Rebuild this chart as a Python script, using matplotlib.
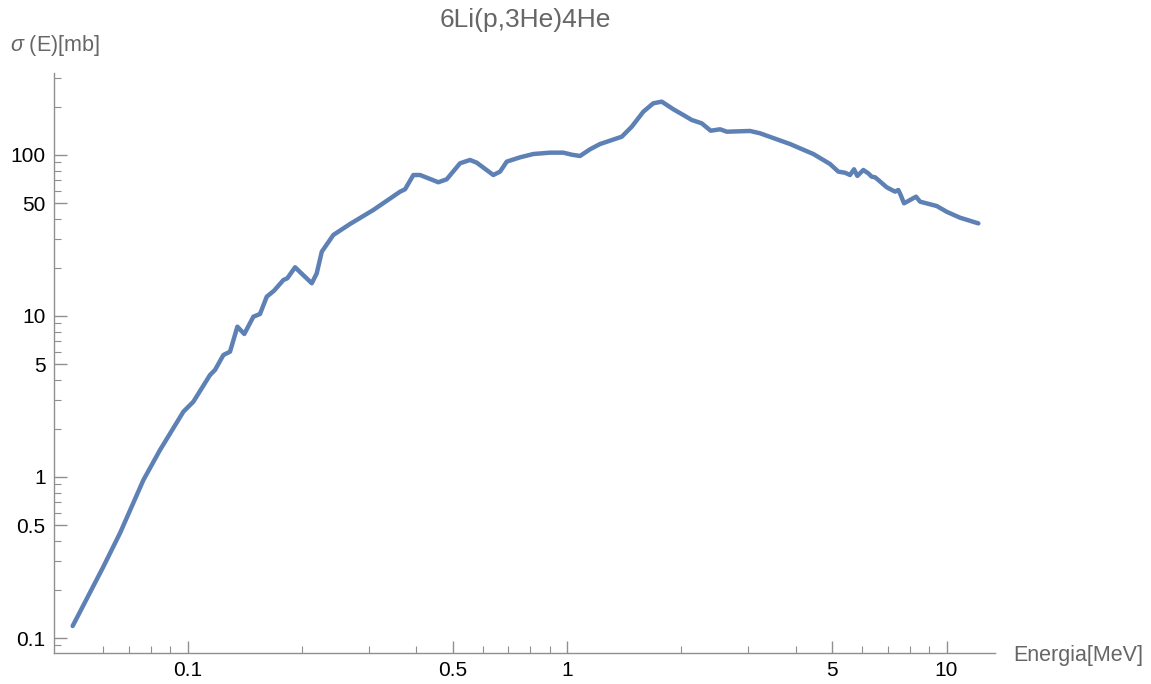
import matplotlib
matplotlib.use('Agg')
import matplotlib.pyplot as plt
from matplotlib.ticker import FixedLocator, LogLocator, NullFormatter, FixedFormatter

# Data (E in MeV, sigma in mb)
energy = [0.0498, 0.0600, 0.0664, 0.0765, 0.0846, 0.0975, 0.1036, 0.1146, 0.1181,
          0.1243, 0.1294, 0.1353, 0.1411, 0.1491, 0.1552, 0.1617, 0.1690, 0.1789,
          0.1832, 0.1920, 0.2125, 0.2190, 0.2258, 0.2422, 0.2680, 0.3087, 0.3631,
          0.3742, 0.3936, 0.4100, 0.4579, 0.4819, 0.5224, 0.5551, 0.5781, 0.6394,
          0.6660, 0.6936, 0.7518, 0.8151, 0.9020, 0.9779, 1.029, 1.082, 1.150,
          1.222, 1.298, 1.394, 1.481, 1.589, 1.688, 1.777, 1.906, 2.025, 2.131,
          2.264, 2.391, 2.531, 2.636, 3.035, 3.225, 3.569, 3.869, 4.111, 4.457,
          4.932, 5.187, 5.402, 5.568, 5.705, 5.821, 6.036, 6.222, 6.352, 6.481,
          6.612, 6.957, 7.317, 7.464, 7.573, 7.727, 8.013, 8.310, 8.516, 9.424,
          10.01, 10.85, 12.13]
sigma = [0.1187, 0.2773, 0.449, 0.958, 1.471, 2.544, 2.936, 4.301, 4.619,
         5.725, 6.001, 8.58, 7.73, 9.90, 10.29, 13.18, 14.36, 16.73,
         17.15, 20.07, 15.97, 18.42, 25.08, 31.86, 37.27, 45.54, 59.16,
         61.23, 75.1, 75.1, 67.7, 70.65, 88.8, 93.1, 89.6, 75.1,
         78.8, 90.9, 96.7, 101.4, 103.4, 103.4, 100.4, 98.6, 108.5,
         117.0, 122.7, 129.9, 149.9, 185.8, 209.5, 214.4, 192.3, 177.2, 165.0,
         157.3, 141.5, 144.4, 139.5, 141.0, 136.4, 125.2, 117.0, 110.0, 101.4,
         87.9, 78.8, 77.6, 75.1, 81.5, 74.1, 80.7, 76.9, 73.3, 72.7,
         69.9, 63.0, 59.2, 60.6, 56.4, 50.1, 52.5, 55.1, 51.3, 48.2,
         44.4, 40.8, 37.6]

x_ticks = [0.1, 0.5, 1, 5, 10]
x_tick_labels = ['0.1', '0.5', '1', '5', '10']
y_ticks = [0.1, 0.5, 1, 5, 10, 50, 100]
y_tick_labels = ['0.1', '0.5', '1', '5', '10', '50', '100']

title = '6Li(p,3He)4He'
x_label = 'Energia[MeV]'
y_label = r'$\sigma$ (E)[mb]'

plt.rcParams['font.family'] = ['Liberation Sans', 'DejaVu Sans']
plt.rcParams['mathtext.fontset'] = 'custom'
plt.rcParams['mathtext.it'] = 'Liberation Sans:italic'
plt.rcParams['mathtext.rm'] = 'Liberation Sans'

W, H = 1151, 684
fig = plt.figure(figsize=(W / 100, H / 100), dpi=100)
ax = fig.add_axes([54 / W, 1 - 653 / H, (995 - 54) / W, (653 - 73) / H])

ax.plot(energy, sigma, color='#5E81B5', lw=3.2, solid_capstyle='round',
        solid_joinstyle='round')

ax.set_xscale('log')
ax.set_yscale('log')
ax.set_xlim(0.04447, 13.42)
ax.set_ylim(0.0807, 323)

axis_color = '#8f8f8f'
for s in ['top', 'right']:
    ax.spines[s].set_visible(False)
for s in ['left', 'bottom']:
    ax.spines[s].set_color(axis_color)
    ax.spines[s].set_linewidth(1.0)

ax.xaxis.set_major_locator(FixedLocator(x_ticks))
ax.xaxis.set_major_formatter(FixedFormatter(x_tick_labels))
ax.yaxis.set_major_locator(FixedLocator(y_ticks))
ax.yaxis.set_major_formatter(FixedFormatter(y_tick_labels))
ax.xaxis.set_minor_locator(LogLocator(base=10, subs=[2, 3, 4, 6, 7, 8, 9], numticks=50))
ax.yaxis.set_minor_locator(LogLocator(base=10, subs=[2, 3, 4, 6, 7, 8, 9], numticks=50))
ax.xaxis.set_minor_formatter(NullFormatter())
ax.yaxis.set_minor_formatter(NullFormatter())

ax.tick_params(which='major', direction='in', length=9, width=1.0, color=axis_color,
               labelsize=15, labelcolor='black')
ax.tick_params(which='minor', direction='in', length=5, width=0.8, color=axis_color)
ax.tick_params(axis='x', which='major', pad=6)
ax.tick_params(axis='y', which='major', pad=6)

fig.text(525 / W, 1 - 20 / H, title, ha='center', va='center', fontsize=19, color='#666666')
fig.text(10 / W, 1 - 46 / H, y_label, ha='left', va='center', fontsize=15.5, color='#666666')
fig.text(1013 / W, 1 - 655 / H, x_label, ha='left', va='center', fontsize=15.5, color='#666666')

fig.savefig('out.png', dpi=100)
